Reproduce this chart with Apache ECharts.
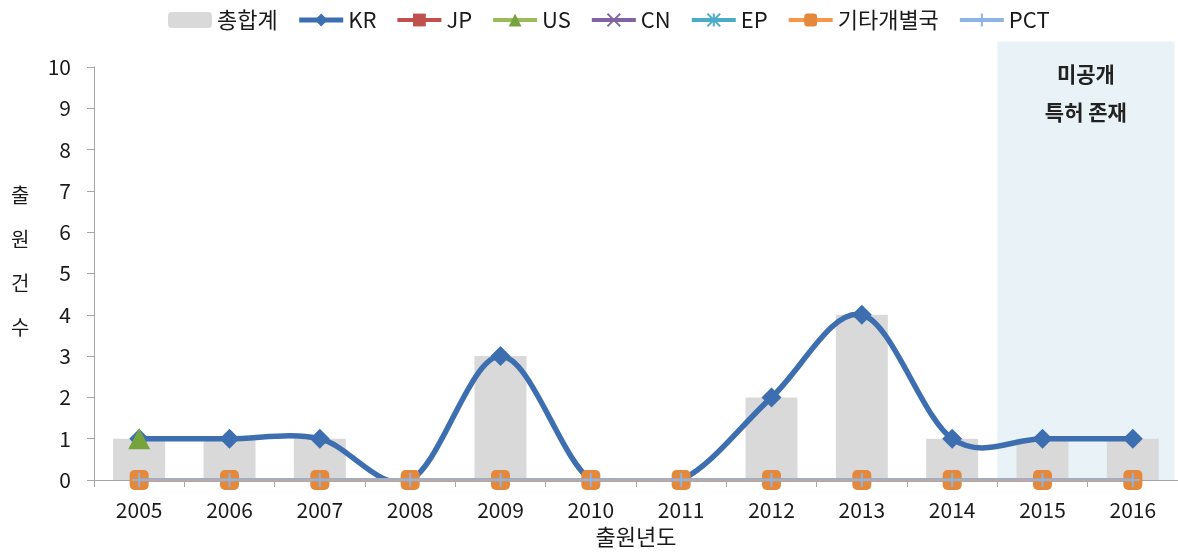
<!DOCTYPE html>
<html><head><meta charset="utf-8">
<script src="https://cdn.jsdelivr.net/npm/echarts@6/dist/echarts.min.js"></script>
<style>html,body{margin:0;padding:0;background:#fff}#c{width:1178px;height:553px}</style>
</head><body><div id="c"></div>
<script>
const years = ['2005','2006','2007','2008','2009','2010','2011','2012','2013','2014','2015','2016'];
const total = [1,1,1,0,3,0,0,2,4,1,1,1];
const kr = [1,1,1,0,3,0,0,2,4,1,1,1];
const jp = [0,0,0,0,0,0,0,0,0,0,0,0];
const us = [1,null,null,null,null,null,null,null,null,null,null,null];
const cn = [0,0,0,0,0,0,0,0,0,0,0,0];
const ep = [0,0,0,0,0,0,0,0,0,0,0,0];
const etc = [0,0,0,0,0,0,0,0,0,0,0,0];
const pct = [0,0,0,0,0,0,0,0,0,0,0,0];
const yTicks = [0,10,1];
const unpublishedFrom = '2015';
const FONT = '"Noto Sans CJK KR", sans-serif';
const KR_COLOR = '#3d6fb0';

const chart = echarts.init(document.getElementById('c'));
const lineBase = {type:'line', symbolSize:12, lineStyle:{width:3}};

// Excel-style (Catmull-Rom) smoothed segment between point i and i+1, clipped to the plot area
function krCurve(params, api){
  const i = params.dataIndex;
  if (i >= kr.length - 1) return null;
  const clampI = k => Math.max(0, Math.min(kr.length-1, k));
  const p = k => api.coord([clampI(k), kr[clampI(k)]]);
  const p0 = p(i-1), p1 = p(i), p2 = p(i+1), p3 = p(i+2);
  const cs = params.coordSys;
  return {type:'bezierCurve', shape:{
      x1:p1[0], y1:p1[1], x2:p2[0], y2:p2[1],
      cpx1:p1[0] + (p2[0]-p0[0])/6, cpy1:p1[1] + (p2[1]-p0[1])/6,
      cpx2:p2[0] - (p3[0]-p1[0])/6, cpy2:p2[1] - (p3[1]-p1[1])/6},
    clipPath:{type:'rect', shape:{x:cs.x, y:cs.y - 20, width:cs.width, height:cs.height + 20}},
    style:{stroke:KR_COLOR, lineWidth:5.5, fill:null, lineCap:'round'}};
}

chart.setOption({
  animation:false,
  textStyle:{fontFamily:FONT},
  legend:{top:4, left:163, itemWidth:44, itemHeight:16, itemGap:19,
    lineStyle:{width:4},
    textStyle:{fontSize:22, color:'#1a1a1a', fontFamily:FONT},
    data:['총합계', {name:'KR', lineStyle:{width:5, color:KR_COLOR, opacity:1}}, 'JP','US','CN','EP','기타개별국','PCT']},
  grid:{left:94, right:0, top:67, bottom:73},
  xAxis:{type:'category', data:years, boundaryGap:true,
    axisLine:{lineStyle:{color:'#a6a6a6', width:1}},
    axisTick:{show:true, length:7, interval:0, lineStyle:{color:'#a6a6a6'}},
    axisLabel:{fontSize:21, color:'#1a1a1a', margin:20, fontFamily:FONT},
    name:'출원년도', nameLocation:'middle', nameGap:44,
    nameTextStyle:{fontSize:22, color:'#1a1a1a', fontFamily:FONT}},
  yAxis:{type:'value', min:yTicks[0], max:yTicks[1], interval:yTicks[2],
    splitLine:{show:false},
    axisLine:{show:true, lineStyle:{color:'#a6a6a6'}},
    axisTick:{show:true, length:7, lineStyle:{color:'#a6a6a6'}},
    axisLabel:{fontSize:21, color:'#1a1a1a', margin:23, fontFamily:FONT}},
  series:[
    {name:'총합계', type:'bar', data:total, barWidth:52, itemStyle:{color:'#d9d9d9'}, z:1},
    Object.assign({}, lineBase, {name:'JP', data:jp, symbol:'rect', symbolSize:15, color:'#c0504d', lineStyle:{width:4,color:'#c0504d'}, z:3}),
    Object.assign({}, lineBase, {name:'CN', data:cn, symbol:'path://M0,0L10,10M10,0L0,10', symbolSize:12, color:'#8064a2', itemStyle:{color:'#8064a2', borderColor:'#8064a2', borderWidth:2}, lineStyle:{width:4,color:'#8064a2'}, z:3}),
    Object.assign({}, lineBase, {name:'EP', data:ep, symbol:'path://M5,0L5,10M0,0L10,10M10,0L0,10', symbolSize:12, color:'#4bacc6', itemStyle:{color:'#4bacc6', borderColor:'#4bacc6', borderWidth:2}, lineStyle:{width:4,color:'#4bacc6'}, z:3}),
    {name:'KR curve', type:'custom', data:kr, renderItem:krCurve, z:4, silent:true},
    {name:'KR', type:'line', data:kr, symbol:'diamond', symbolSize:20, color:KR_COLOR,
      itemStyle:{color:KR_COLOR}, lineStyle:{width:5, color:KR_COLOR, opacity:0}, z:5},
    Object.assign({}, lineBase, {name:'기타개별국', data:etc, symbol:'roundRect', symbolSize:[19,20], color:'#e4883c', itemStyle:{color:'#e4883c'}, lineStyle:{width:4,color:'#f79646'}, z:6}),
    Object.assign({}, lineBase, {name:'PCT', data:pct, symbol:'path://M5,0L5,10M0,5L10,5', symbolSize:14, color:'#8eb4e3', itemStyle:{color:'#8eb4e3', borderColor:'#8eb4e3', borderWidth:2}, lineStyle:{width:3,color:'#8eb4e3'}, z:7}),
    Object.assign({}, lineBase, {name:'US', data:us, symbol:'triangle', symbolSize:[22,21], color:'#77a33e', lineStyle:{width:4,color:'#9bbb59'}, itemStyle:{color:'#77a33e'}, z:8})
  ]
});

function drawShade(){
  const i = years.indexOf(unpublishedFrom);
  const x0 = chart.convertToPixel({xAxisIndex:0}, years[i-1]);
  const x1 = chart.convertToPixel({xAxisIndex:0}, years[i]);
  const xl = chart.convertToPixel({xAxisIndex:0}, years[years.length-1]);
  const band = x1 - x0;
  const left = x0 + band/2;
  const right = xl + band*0.46;
  const yTop = chart.convertToPixel({yAxisIndex:0}, 10.62);
  const yBot = chart.convertToPixel({yAxisIndex:0}, 0);
  const cx = (left+right)/2;
  chart.setOption({graphic:[
    {type:'rect', shape:{x:left, y:yTop, width:right-left, height:yBot-yTop}, style:{fill:'#e9f3f7'}, z:-10, silent:true},
    {type:'text', x:cx, y:chart.convertToPixel({yAxisIndex:0}, 9.83), style:{text:'미공개', fill:'#222', align:'center', verticalAlign:'middle', font:'bold 21px "Noto Sans CJK KR"'}, z:10},
    {type:'text', x:cx, y:chart.convertToPixel({yAxisIndex:0}, 8.9), style:{text:'특허 존재', fill:'#222', align:'center', verticalAlign:'middle', font:'bold 21px "Noto Sans CJK KR"'}, z:10},
    {type:'text', left:11, top:173, style:{text:'출\n원\n건\n수', lineHeight:44, fill:'#1a1a1a', font:'20px "Noto Sans CJK KR"'}, z:10}
  ]});
}
drawShade();
</script></body></html>
